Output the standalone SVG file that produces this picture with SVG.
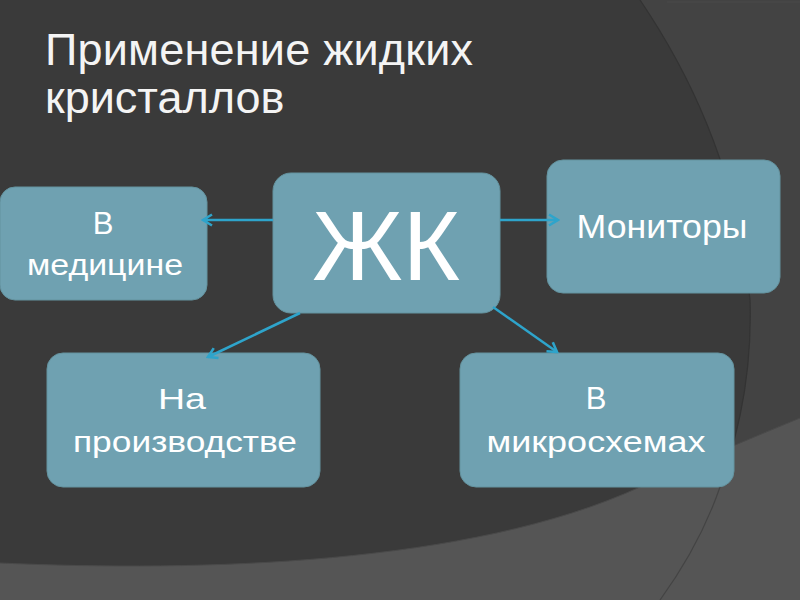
<svg xmlns="http://www.w3.org/2000/svg" width="800" height="600" viewBox="0 0 800 600">
<defs>
<style>
.box{fill:#6fa1b1;stroke:#64939f;stroke-width:1}
.lbl{font-family:"Liberation Sans",Arial,sans-serif;fill:#ffffff;text-anchor:middle}
.t{font-family:"Liberation Sans",Arial,sans-serif;fill:#f4f4f4;font-size:45px}
.c{stroke:#2ea4cb;stroke-width:2.5;fill:none;marker-end:url(#ah)}
</style>
<marker id="ah" viewBox="0 0 14 14" refX="12" refY="7" markerWidth="14" markerHeight="14" markerUnits="userSpaceOnUse" orient="auto">
<path d="M3,1.5 L12,7 L3,12.5" fill="none" stroke="#2ea4cb" stroke-width="2.6"/>
</marker>
</defs>
<rect width="800" height="600" fill="#3a3a3a"/>
<path d="M640,0 Q735,140 750,300 Q755,460 660,600 L800,600 L800,0 Z" fill="#434343"/>
<path d="M640,0 Q735,140 750,300 Q755,460 660,600" fill="none" stroke="#333" stroke-width="1.2"/>
<path d="M0,563 C200,572 470,565 640,487 Q720,450 800,418 L800,600 L0,600 Z" fill="#555555"/>
<path d="M0,563 C200,572 470,565 640,487 Q720,450 800,418" fill="none" stroke="#4a4a4a" stroke-width="1"/>
<path d="M720,487 Q700,545 660,600" fill="none" stroke="#444" stroke-width="1.2"/>
<path d="M667,2 L800,2" stroke="#4a4a4a" stroke-width="1"/>

<text class="t" x="45" y="65" textLength="428" lengthAdjust="spacing">Применение жидких</text>
<text class="t" x="45" y="113">кристаллов</text>

<g id="node-zk">
<rect class="box" x="273" y="173" width="227" height="140" rx="18"/>
<text class="lbl" x="386" y="280" font-size="98">ЖК</text>
</g>
<g id="node-medicine">
<rect class="box" x="0" y="187" width="207" height="113" rx="15"/>
<text class="lbl" x="103" y="234" font-size="31">В</text>
<text class="lbl" x="105" y="275" font-size="30" textLength="156" lengthAdjust="spacingAndGlyphs">медицине</text>
</g>
<g id="node-monitors">
<rect class="box" x="547" y="160" width="233" height="133" rx="16"/>
<text class="lbl" x="662" y="238" font-size="34" textLength="171" lengthAdjust="spacingAndGlyphs">Мониторы</text>
</g>
<g id="node-production">
<rect class="box" x="47" y="353" width="273" height="134" rx="16"/>
<text class="lbl" x="182" y="409" font-size="30" textLength="48" lengthAdjust="spacingAndGlyphs">На</text>
<text class="lbl" x="185" y="452" font-size="30" textLength="224" lengthAdjust="spacingAndGlyphs">производстве</text>
</g>
<g id="node-microchips">
<rect class="box" x="460" y="353" width="274" height="134" rx="16"/>
<text class="lbl" x="596" y="409" font-size="31">В</text>
<text class="lbl" x="596" y="452" font-size="30" textLength="219" lengthAdjust="spacingAndGlyphs">микросхемах</text>
</g>

<g id="connectors">
<line class="c" x1="273" y1="220" x2="203" y2="220"/>
<line class="c" x1="500" y1="220" x2="558" y2="220"/>
<line class="c" x1="300" y1="313" x2="208" y2="357"/>
<line class="c" x1="493" y1="307" x2="557" y2="352"/>
</g>
</svg>
